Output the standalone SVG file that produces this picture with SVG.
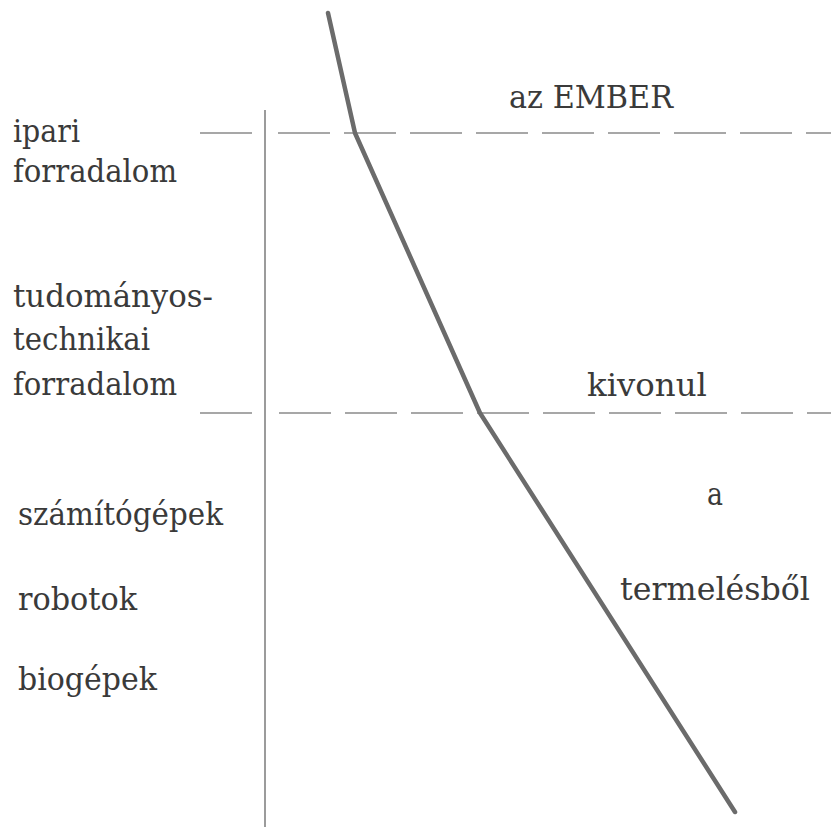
<svg xmlns="http://www.w3.org/2000/svg" width="831" height="827" viewBox="0 0 831 827">
  <style>
    .t { font-family: 'DejaVu Serif', 'Liberation Serif', 'Noto Serif', serif; font-size: 31px; fill: #3a3a3a; }
    .dash { stroke: #8a8a8a; stroke-width: 1.6; fill: none; }
    .axis { stroke: #7a7a7a; stroke-width: 1.5; fill: none; }
    .curve { stroke: #6b6b6b; stroke-width: 4.5; fill: none; stroke-linecap: round; stroke-linejoin: round; }
  </style>
  <rect width="831" height="827" fill="#ffffff"/>
  <g id="axis">
    <line class="axis" x1="265" y1="110" x2="265" y2="827"/>
  </g>
  <g id="dividers">
    <line class="dash" x1="200" y1="133" x2="252" y2="133"/>
    <line class="dash" x1="278" y1="133" x2="831" y2="133" stroke-dasharray="52 14"/>
    <line class="dash" x1="200" y1="413" x2="252" y2="413"/>
    <line class="dash" x1="279" y1="413" x2="831" y2="413" stroke-dasharray="52 14"/>
  </g>
  <g id="connectors">
    <polyline class="curve" points="328,13 355,133 480,413 735,812"/>
  </g>
  <g id="left-labels">
    <text class="t" x="13" y="142" textLength="67" lengthAdjust="spacingAndGlyphs">ipari</text>
    <text class="t" x="13" y="182" textLength="164" lengthAdjust="spacingAndGlyphs">forradalom</text>
    <text class="t" x="13" y="307" textLength="200" lengthAdjust="spacingAndGlyphs">tudományos-</text>
    <text class="t" x="13" y="350" textLength="137" lengthAdjust="spacingAndGlyphs">technikai</text>
    <text class="t" x="13" y="395" textLength="164" lengthAdjust="spacingAndGlyphs">forradalom</text>
    <text class="t" x="18" y="525" textLength="205" lengthAdjust="spacingAndGlyphs">számítógépek</text>
    <text class="t" x="18" y="610" textLength="119" lengthAdjust="spacingAndGlyphs">robotok</text>
    <text class="t" x="18" y="690" textLength="139" lengthAdjust="spacingAndGlyphs">biogépek</text>
  </g>
  <g id="right-labels">
    <text class="t" x="509" y="108" textLength="164" lengthAdjust="spacingAndGlyphs">az EMBER</text>
    <text class="t" x="587" y="396" textLength="120" lengthAdjust="spacingAndGlyphs">kivonul</text>
    <text class="t" x="707" y="505" textLength="16" lengthAdjust="spacingAndGlyphs">a</text>
    <text class="t" x="620" y="600" textLength="190" lengthAdjust="spacingAndGlyphs">termelésből</text>
  </g>
</svg>
